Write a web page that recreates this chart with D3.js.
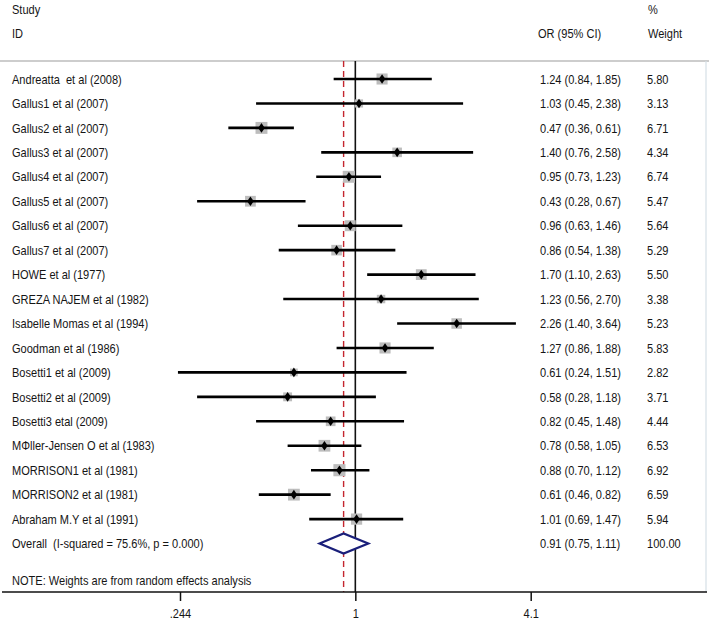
<!DOCTYPE html>
<html><head><meta charset="utf-8">
<script src="https://cdn.jsdelivr.net/npm/d3@7"></script>
<style>
html,body{margin:0;padding:0;background:#fff;}
svg text{font-family:"Liberation Sans",Arial,sans-serif;font-size:13px;fill:#151515;white-space:pre;}
</style></head>
<body><svg id="chart" width="709" height="621"></svg>
<script>
const studies = ["Andreatta  et al (2008)","Gallus1 et al (2007)","Gallus2 et al (2007)","Gallus3 et al (2007)","Gallus4 et al (2007)","Gallus5 et al (2007)","Gallus6 et al (2007)","Gallus7 et al (2007)","HOWE et al (1977)","GREZA NAJEM et al (1982)","Isabelle Momas et al (1994)","Goodman et al (1986)","Bosetti1 et al (2009)","Bosetti2 et al (2009)","Bosetti3 etal (2009)","MΦller-Jensen O et al (1983)","MORRISON1 et al (1981)","MORRISON2 et al (1981)","Abraham M.Y et al (1991)"];
const orValues = [1.24,1.03,0.47,1.40,0.95,0.43,0.96,0.86,1.70,1.23,2.26,1.27,0.61,0.58,0.82,0.78,0.88,0.61,1.01];
const ciLow    = [0.84,0.45,0.36,0.76,0.73,0.28,0.63,0.54,1.10,0.56,1.40,0.86,0.24,0.28,0.45,0.58,0.70,0.46,0.69];
const ciHigh   = [1.85,2.38,0.61,2.58,1.23,0.67,1.46,1.38,2.63,2.70,3.64,1.88,1.51,1.18,1.48,1.05,1.12,0.82,1.47];
const weights  = [5.80,3.13,6.71,4.34,6.74,5.47,5.64,5.29,5.50,3.38,5.23,5.83,2.82,3.71,4.44,6.53,6.92,6.59,5.94];
const overallLabel = "Overall  (I-squared = 75.6%, p = 0.000)";
const overall = {or:0.91, lo:0.75, hi:1.11, weight:100.00};
const tickValues = [0.244, 1, 4.1];
const tickLabels = [".244", "1", "4.1"];
const noteText = "NOTE: Weights are from random effects analysis";

const svg = d3.select("#chart");
const x = d3.scaleLog().domain([0.244, 4.1]).range([180, 530.7]);
const y = d3.scaleLinear().domain([0, 1]).range([79, 103.45]);
const topY = 61, axisY = 592;
const fmt2 = d3.format(".2f");
const sx = 0.85;

function txt(xp, yp, s, anchor) {
  return svg.append("text")
    .attr("transform", `translate(${xp},${yp}) scale(${sx},1)`)
    .attr("text-anchor", anchor || "start")
    .attr("dy", "0.36em")
    .attr("xml:space", "preserve")
    .text(s);
}

// headers
txt(12, 9, "Study");
txt(12, 33, "ID");
txt(538, 33, "OR (95% CI)");
txt(648, 9, "%");
txt(648, 33, "Weight");

// frame lines
svg.append("line").attr("x1", 0).attr("x2", 709).attr("y1", topY).attr("y2", topY)
  .attr("stroke", "#bdbdbd").attr("stroke-width", 1.5);
svg.append("line").attr("x1", 706).attr("x2", 706).attr("y1", topY).attr("y2", axisY)
  .attr("stroke", "#d6e0e6").attr("stroke-width", 1.2);

// reference lines
svg.append("line").attr("x1", x(1)).attr("x2", x(1)).attr("y1", topY).attr("y2", axisY)
  .attr("stroke", "#111").attr("stroke-width", 1.6);
svg.append("line").attr("x1", x(overall.or)).attr("x2", x(overall.or)).attr("y1", topY).attr("y2", axisY)
  .attr("stroke", "#c4262e").attr("stroke-width", 1.4).attr("stroke-dasharray", "6,4");

// study rows
studies.forEach((s, i) => {
  const yy = y(i);
  txt(12, yy, s);
  txt(540, yy, `${fmt2(orValues[i])} (${fmt2(ciLow[i])}, ${fmt2(ciHigh[i])})`);
  txt(647, yy, fmt2(weights[i]));
  const side = 4.6 * Math.sqrt(weights[i]);
  svg.append("rect").attr("x", x(orValues[i]) - side / 2).attr("y", yy - side / 2)
    .attr("width", side).attr("height", side).attr("fill", "#bdbdbd");
  svg.append("line").attr("x1", x(ciLow[i])).attr("x2", x(ciHigh[i])).attr("y1", yy).attr("y2", yy)
    .attr("stroke", "#000").attr("stroke-width", 2.6);
  const cx = x(orValues[i]);
  svg.append("path").attr("d", `M${cx},${yy - 4.8}L${cx + 3.3},${yy}L${cx},${yy + 4.8}L${cx - 3.3},${yy}Z`)
    .attr("fill", "#000");
});

// overall
const oy = y(studies.length);
txt(12, oy, overallLabel);
txt(540, oy, `${fmt2(overall.or)} (${fmt2(overall.lo)}, ${fmt2(overall.hi)})`);
txt(647, oy, fmt2(overall.weight));
svg.append("path")
  .attr("d", `M${x(overall.lo)},${oy}L${x(overall.or)},${oy - 10}L${x(overall.hi)},${oy}L${x(overall.or)},${oy + 10}Z`)
  .attr("fill", "#fff").attr("stroke", "#1a1f7a").attr("stroke-width", 2.2);

// note
txt(12, y(studies.length + 1.52), noteText);

// axis
svg.append("line").attr("x1", 2).attr("x2", 707).attr("y1", axisY).attr("y2", axisY)
  .attr("stroke", "#111").attr("stroke-width", 1.6);
const axis = d3.axisBottom(x).tickValues(tickValues)
  .tickFormat((d, i) => tickLabels[i]).tickSize(9).tickSizeOuter(0).tickPadding(8);
const ag = svg.append("g").attr("transform", `translate(0,${axisY})`).call(axis);
ag.select(".domain").remove();
ag.selectAll(".tick line").attr("stroke", "#111").attr("stroke-width", 1.5);
ag.selectAll(".tick text").attr("font-size", null).attr("font-family", null)
  .attr("transform", `scale(${sx},1)`);
</script></body></html>
